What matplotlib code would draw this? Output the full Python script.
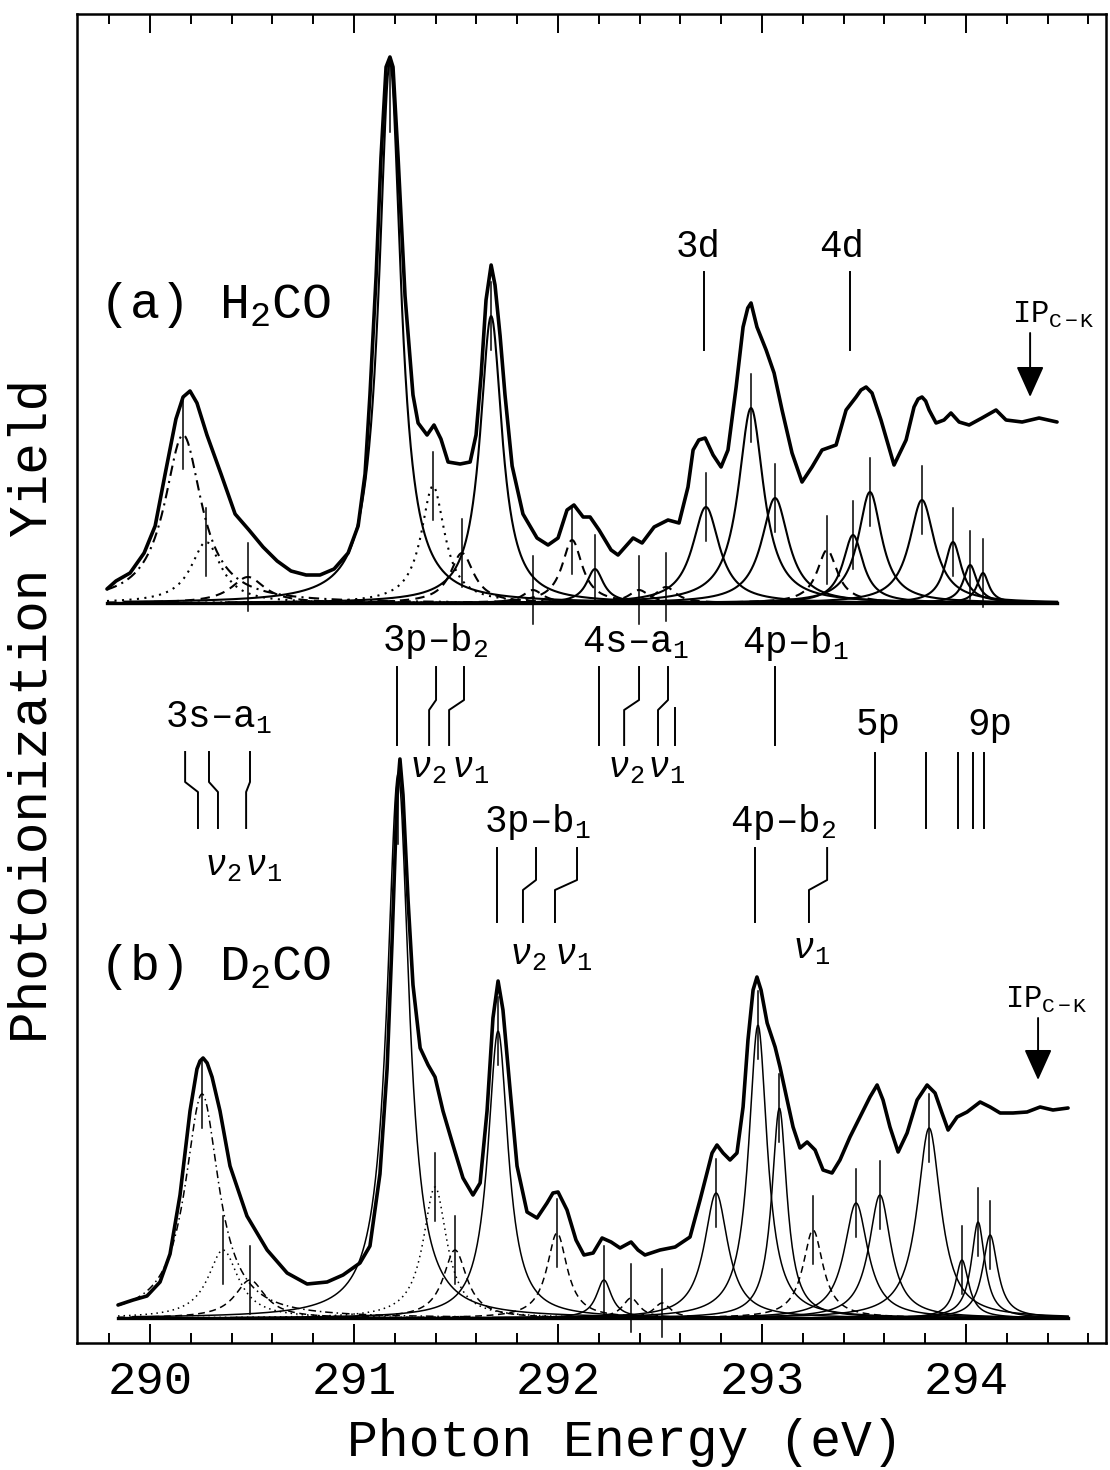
import numpy as np
import matplotlib
matplotlib.use("Agg")
import matplotlib.pyplot as plt
from matplotlib.ticker import MultipleLocator

plt.rcParams['font.family'] = ['Liberation Mono', 'DejaVu Sans']
plt.rcParams['mathtext.fontset'] = 'custom'
plt.rcParams['mathtext.rm'] = 'Liberation Mono'
plt.rcParams['mathtext.it'] = 'Liberation Mono:italic'
plt.rcParams['mathtext.bf'] = 'Liberation Mono:bold'

# ---- (a) H2CO : measured yield (above its own zero line) ----
A_EXP_E = [289.789, 289.833, 289.902, 289.971, 290.025, 290.074, 290.127, 290.162, 290.196,
           290.230, 290.279, 290.348, 290.417, 290.485, 290.554, 290.623, 290.691, 290.765,
           290.833, 290.902, 290.971, 291.020, 291.054, 291.078, 291.108, 291.132, 291.157,
           291.176, 291.191, 291.216, 291.250, 291.289, 291.314, 291.358, 291.392, 291.426,
           291.461, 291.520, 291.569, 291.598, 291.623, 291.647, 291.672, 291.691, 291.716,
           291.740, 291.775, 291.828, 291.897, 291.951, 292.000, 292.044, 292.078, 292.123,
           292.157, 292.201, 292.260, 292.294, 292.368, 292.412, 292.471, 292.539, 292.593,
           292.637, 292.662, 292.690, 292.721, 292.760, 292.799, 292.833, 292.873, 292.907,
           292.930, 292.946, 292.975, 293.020, 293.059, 293.098, 293.147, 293.196, 293.245,
           293.294, 293.363, 293.412, 293.461, 293.485, 293.510, 293.539, 293.583, 293.647,
           293.706, 293.745, 293.765, 293.784, 293.802, 293.819, 293.853, 293.892, 293.926,
           293.966, 294.015, 294.078, 294.147, 294.196, 294.275, 294.358, 294.446]
A_EXP_Y = [1.4, 2.2, 3.0, 5.0, 7.7, 12.9, 18.4, 20.6, 21.2,
           20.0, 16.8, 12.9, 8.9, 7.3, 5.6, 4.2, 3.2, 2.8,
           2.8, 3.4, 5.0, 7.7, 12.9, 20.8, 32.6, 44.5, 53.6,
           54.6, 53.6, 44.5, 30.7, 20.8, 18.0, 16.8, 17.8, 16.4,
           14.1, 13.9, 14.1, 16.8, 22.8, 30.3, 33.8, 31.8, 26.7,
           20.8, 13.7, 8.9, 6.5, 5.8, 6.5, 9.3, 9.8, 8.6,
           8.6, 7.3, 5.3, 4.8, 6.5, 6.0, 7.6, 8.3, 8.0,
           11.6, 15.3, 16.3, 16.5, 14.8, 13.6, 15.3, 21.6, 27.6,
           29.5, 30.0, 27.6, 25.3, 23.0, 19.3, 15.0, 12.1, 13.6,
           15.3, 15.8, 19.3, 20.6, 21.3, 21.6, 21.0, 18.3, 13.8,
           16.3, 19.6, 20.4, 20.6, 20.2, 19.3, 18.0, 18.3, 19.0,
           18.1, 17.8, 18.5, 19.3, 18.3, 18.1, 18.5, 18.1]

# fitted Lorentzian components for (a): centre (eV), height, half width (eV), line kind
A_PEAK_E = [290.162, 290.275, 290.480, 291.176, 291.387, 291.529, 291.672, 291.877,
            292.069, 292.181, 292.397, 292.529, 292.725, 292.946, 293.064, 293.319,
            293.446, 293.529, 293.784, 293.936, 294.020, 294.083]
A_PEAK_H = [16.8, 6.1, 2.6, 54.1, 11.7, 5.0, 28.7, 1.3,
            6.3, 3.4, 1.3, 1.6, 9.6, 19.5, 10.5, 5.3,
            6.8, 11.1, 10.3, 6.1, 3.8, 3.0]
A_PEAK_W = [0.11, 0.09, 0.10, 0.065, 0.07, 0.07, 0.065, 0.06,
            0.06, 0.05, 0.06, 0.06, 0.08, 0.075, 0.08, 0.06,
            0.06, 0.07, 0.075, 0.05, 0.04, 0.035]
A_PEAK_KIND = ['dashdot', 'dotted', 'dashed', 'solid', 'dotted', 'dashed', 'solid', 'dashed',
               'dashed', 'solid', 'dashed', 'dashed', 'solid', 'solid', 'solid', 'dashed',
               'solid', 'solid', 'solid', 'solid', 'solid', 'solid']

# ---- (b) D2CO ----
B_EXP_E = [289.843, 289.917, 289.985, 290.049, 290.098, 290.147, 290.196, 290.230, 290.245,
           290.260, 290.280, 290.304, 290.343, 290.392, 290.475, 290.574, 290.672, 290.770,
           290.868, 290.946, 291.029, 291.078, 291.127, 291.162, 291.186, 291.211, 291.225,
           291.240, 291.265, 291.289, 291.324, 291.363, 291.397, 291.436, 291.485, 291.534,
           291.583, 291.618, 291.652, 291.681, 291.706, 291.730, 291.765, 291.799, 291.848,
           291.897, 291.946, 291.975, 292.000, 292.044, 292.088, 292.127, 292.172, 292.216,
           292.260, 292.304, 292.358, 292.392, 292.426, 292.500, 292.574, 292.647, 292.696,
           292.730, 292.755, 292.779, 292.809, 292.843, 292.877, 292.907, 292.931, 292.956,
           292.975, 292.995, 293.025, 293.064, 293.088, 293.123, 293.152, 293.186, 293.221,
           293.260, 293.299, 293.343, 293.382, 293.431, 293.480, 293.529, 293.564, 293.593,
           293.627, 293.667, 293.711, 293.760, 293.809, 293.848, 293.882, 293.912, 293.956,
           294.005, 294.069, 294.118, 294.167, 294.230, 294.299, 294.363, 294.426, 294.500]
B_EXP_Y = [1.3, 1.8, 2.2, 3.6, 6.4, 12.3, 20.7, 24.9, 25.7,
           26.0, 25.5, 24.1, 20.7, 15.2, 10.2, 6.8, 4.5, 3.4,
           3.6, 4.3, 5.5, 7.2, 14.4, 24.9, 37.5, 52.3, 55.9,
           52.3, 41.7, 33.3, 27.0, 25.3, 24.1, 20.7, 17.3, 14.0,
           12.3, 13.5, 20.7, 30.0, 33.7, 30.8, 22.8, 15.2, 10.6,
           10.0, 11.5, 12.5, 12.6, 10.8, 7.8, 6.3, 6.5, 8.0,
           7.6, 7.0, 7.6, 6.8, 6.3, 6.8, 7.1, 8.1, 11.8,
           14.5, 16.5, 17.3, 16.5, 15.8, 16.5, 21.1, 27.8, 32.8,
           34.1, 32.8, 29.5, 27.1, 25.1, 21.8, 19.1, 17.0, 17.6,
           16.8, 14.8, 14.5, 15.8, 18.1, 20.1, 22.1, 23.3, 21.8,
           19.1, 16.6, 18.5, 21.8, 23.3, 22.5, 20.5, 18.8, 20.1,
           20.6, 21.6, 21.1, 20.5, 20.5, 20.6, 21.1, 20.8, 21.0]

B_PEAK_E = [290.255, 290.358, 290.490, 291.216, 291.397, 291.495, 291.706, 291.995,
            292.225, 292.358, 292.510, 292.775, 292.980, 293.085, 293.250, 293.461,
            293.578, 293.819, 293.980, 294.059, 294.118]
B_PEAK_H = [22.4, 6.8, 3.8, 54.4, 13.1, 6.8, 28.7, 8.5,
            3.8, 2.0, 1.5, 12.5, 29.3, 21.0, 8.8, 11.5,
            12.3, 19.0, 5.8, 9.6, 8.3]
B_PEAK_W = [0.10, 0.09, 0.09, 0.065, 0.07, 0.07, 0.06, 0.06,
            0.045, 0.05, 0.05, 0.07, 0.055, 0.045, 0.06, 0.07,
            0.065, 0.07, 0.04, 0.04, 0.045]
B_PEAK_KIND = ['dashdot', 'dotted', 'dashed', 'solid', 'dotted', 'dashed', 'solid', 'dashed',
               'solid', 'dashed', 'dashed', 'solid', 'solid', 'solid', 'dashed', 'solid',
               'solid', 'solid', 'solid', 'solid', 'solid']

# ---- assignment ladders (energy at top / bottom of each bent line) ----
L3S_TOP = [290.172, 290.289, 290.490]
L3S_BOT = [290.235, 290.333, 290.471]
L3PB2_TOP = [291.211, 291.402, 291.539]
L3PB2_BOT = [291.211, 291.368, 291.466]
L4SA1_TOP = [292.201, 292.397, 292.539]
L4SA1_BOT = [292.201, 292.324, 292.490]
L4SA1_EXTRA = 292.574
L4PB1 = 293.064
NP_SERIES = [293.554, 293.804, 293.961, 294.034, 294.088]
L3PB1_TOP = [291.701, 291.892, 292.093]
L3PB1_BOT = [291.701, 291.828, 291.985]
L4PB2_TOP = [292.966, 293.319]
L4PB2_BOT = [292.966, 293.230]
LINE_3D = 292.716
LINE_4D = 293.431
IP_A = 294.314
IP_B = 294.353

A_OFFSET = 74.0
B_OFFSET = 2.5

LS = {'solid': '-', 'dotted': (0, (1, 2.6)), 'dashed': (0, (4.5, 3)),
      'dashdot': (0, (5, 2.5, 1, 2.5))}


def lorentz(e, c, h, w):
    return h / (1.0 + ((e - c) / w) ** 2)


def draw_panel(ax, e_exp, y_exp, base, cen, hei, wid, kind, lw_comp):
    ax.plot([e_exp[0], e_exp[-1]], [base, base], color='k', lw=2.4)
    for c, h, w, k in zip(cen, hei, wid, kind):
        e = np.linspace(max(e_exp[0], c - 1.3), min(e_exp[-1], c + 1.3), 600)
        ax.plot(e, base + lorentz(e, c, h, w), color='k', lw=lw_comp, ls=LS[k])
        # tick mark at the component top (hangs below the top on the tallest lines)
        if h > 40:
            lo, hi = h - 7.0, h
        else:
            lo, hi = h - 3.4, h + 3.4
        ax.plot([c, c], [base + lo, base + hi], color='k', lw=1.1)
    ax.plot(e_exp, base + np.asarray(y_exp), color='k', lw=2.6,
            solid_joinstyle='round', solid_capstyle='round')


def ladder(ax, tops, bots, y0, y1, y2, y3):
    for t, b in zip(tops, bots):
        ax.plot([t, t, b, b], [y0, y1, y2, y3], color='k', lw=1.4)


fig = plt.figure(figsize=(11.1, 14.7), dpi=100)
ax = fig.add_axes([77 / 1110, 127 / 1470, 1029 / 1110, 1329 / 1470])
ax.set_xlim(289.642, 294.686)
ax.set_ylim(0, 132.9)

draw_panel(ax, A_EXP_E, A_EXP_Y, A_OFFSET, A_PEAK_E, A_PEAK_H, A_PEAK_W, A_PEAK_KIND, 1.5)
draw_panel(ax, B_EXP_E, B_EXP_Y, B_OFFSET, B_PEAK_E, B_PEAK_H, B_PEAK_W, B_PEAK_KIND, 1.1)

# ladders between the spectra
ladder(ax, L3S_TOP, L3S_BOT, 59.1, 56.1, 55.1, 51.5)
ladder(ax, L3PB2_TOP, L3PB2_BOT, 67.6, 64.3, 63.3, 59.8)
ladder(ax, L4SA1_TOP, L4SA1_BOT, 67.6, 64.3, 63.3, 59.8)
ax.plot([L4SA1_EXTRA, L4SA1_EXTRA], [63.5, 59.8], color='k', lw=1.4)
ax.plot([L4PB1, L4PB1], [67.6, 59.8], color='k', lw=1.4)
for e in NP_SERIES:
    ax.plot([e, e], [59.0, 51.5], color='k', lw=1.4)
ladder(ax, L3PB1_TOP, L3PB1_BOT, 49.5, 46.3, 45.3, 42.1)
ladder(ax, L4PB2_TOP, L4PB2_BOT, 49.5, 46.3, 45.3, 42.1)
ax.plot([LINE_3D, LINE_3D], [107.1, 99.3], color='k', lw=1.4)
ax.plot([LINE_4D, LINE_4D], [107.1, 99.3], color='k', lw=1.4)

fs = 27
nu = dict(size=26, style='italic', ha='center', va='baseline')
ax.text(289.750, 102.5, r"(a) H$_2$CO", size=36, ha='left', va='baseline')
ax.text(289.750, 36.3, r"(b) D$_2$CO", size=36, ha='left', va='baseline')
ax.text(292.686, 108.6, "3d", size=fs, ha='center', va='baseline')
ax.text(293.392, 108.6, "4d", size=fs, ha='center', va='baseline')
ax.text(290.333, 61.5, r"3s–a$_1$", size=fs, ha='center', va='baseline')
ax.text(290.358, 46.8, r"ν$_2$", **nu)
ax.text(290.554, 46.8, r"ν$_1$", **nu)
ax.text(291.397, 69.2, r"3p–b$_2$", size=fs, ha='center', va='baseline')
ax.text(291.363, 56.6, r"ν$_2$", **nu)
ax.text(291.569, 56.6, r"ν$_1$", **nu)
ax.text(292.377, 69.0, r"4s–a$_1$", size=fs, ha='center', va='baseline')
ax.text(292.333, 56.6, r"ν$_2$", **nu)
ax.text(292.529, 56.6, r"ν$_1$", **nu)
ax.text(293.162, 69.0, r"4p–b$_1$", size=fs, ha='center', va='baseline')
ax.text(293.569, 60.8, "5p", size=fs, ha='center', va='baseline')
ax.text(294.118, 60.8, "9p", size=fs, ha='center', va='baseline')
ax.text(291.897, 51.1, r"3p–b$_1$", size=fs, ha='center', va='baseline')
ax.text(291.853, 37.9, r"ν$_2$", **nu)
ax.text(292.074, 37.9, r"ν$_1$", **nu)
ax.text(293.103, 51.1, r"4p–b$_2$", size=fs, ha='center', va='baseline')
ax.text(293.240, 38.5, r"ν$_1$", **nu)

# ionization potential markers
arrow = dict(arrowstyle='-|>,head_length=0.8,head_width=0.36', color='k', lw=1.4,
             mutation_scale=24, shrinkA=0, shrinkB=0)
ax.text(294.225, 102.0, r"IP$_\mathrm{C-K}$", size=22, ha='left', va='baseline')
ax.annotate('', xy=(IP_A, 94.6), xytext=(IP_A, 101.0), arrowprops=arrow)
ax.text(294.191, 33.5, r"IP$_\mathrm{C-K}$", size=22, ha='left', va='baseline')
ax.annotate('', xy=(IP_B, 26.3), xytext=(IP_B, 32.5), arrowprops=arrow)

ax.set_xticks([290, 291, 292, 293, 294])
ax.xaxis.set_minor_locator(MultipleLocator(0.2))
ax.set_yticks([])
ax.tick_params(axis='x', which='both', direction='in', top=True, bottom=True,
               width=1.4, labelsize=34, pad=12)
ax.tick_params(axis='x', which='major', length=13.5)
ax.tick_params(axis='x', which='minor', length=7.5)
for s in ax.spines.values():
    s.set_linewidth(1.8)

fig.text(625 / 1110, 1 - 1456 / 1470, "Photon Energy (eV)", size=37, ha='center', va='baseline')
fig.text(33 / 1110, 1 - 711 / 1470, "Photoionization Yield", size=38, rotation=90,
         ha='center', va='center')

fig.savefig("out.png", dpi=100, facecolor='white')
